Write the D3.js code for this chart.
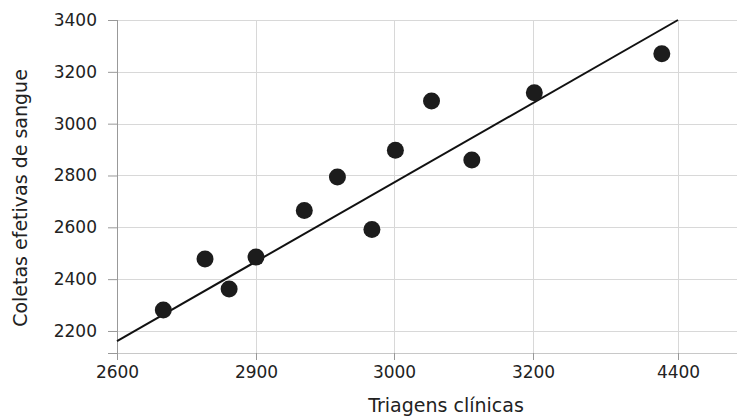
<!DOCTYPE html>
<html>
<head>
<meta charset="utf-8">
<script src="https://cdn.jsdelivr.net/npm/d3@7"></script>
<style>
  body { margin: 0; background: #fff; }
  svg text { font-family: "DejaVu Sans", sans-serif; fill: #222; }
</style>
</head>
<body>
<svg id="chart" width="737" height="416"></svg>
<script>
// x axis labels are uneven in the source, so the x scale is piecewise
const xTicks = [2600, 2900, 3000, 3200, 4400];
const xTickPos = [117, 256, 394, 533, 678];
const yTicks = [2200, 2400, 2600, 2800, 3000, 3200, 3400];

const triagens = [2700, 2790, 2842, 2900, 2935, 2959, 2984, 3002, 3054, 3112, 3211, 4266];
const coletas  = [2281, 2478, 2362, 2485, 2665, 2794, 2592, 2897, 3087, 2860, 3119, 3270];

// trend line endpoints
const trendX = [2600, 4400];
const trendY = [2161, 3400];

const svg = d3.select('#chart');
const width = +svg.attr('width'), height = +svg.attr('height');
const margin = { top: 20, right: 0, bottom: 63, left: 117 };

const x = d3.scaleLinear()
  .domain(xTicks)
  .range(xTickPos);

const y = d3.scaleLinear()
  .domain([2115, 3400])
  .range([height - margin.bottom, margin.top]);

// grid
svg.append('g')
  .selectAll('line.h')
  .data(yTicks)
  .enter()
  .append('line')
  .attr('x1', margin.left)
  .attr('x2', width)
  .attr('y1', d => Math.round(y(d)) + 0.5)
  .attr('y2', d => Math.round(y(d)) + 0.5)
  .attr('stroke', '#d8d8d8');

svg.append('g')
  .selectAll('line.v')
  .data(xTicks.slice(1))
  .enter()
  .append('line')
  .attr('x1', d => Math.round(x(d)) + 0.5)
  .attr('x2', d => Math.round(x(d)) + 0.5)
  .attr('y1', y(3400))
  .attr('y2', height - margin.bottom)
  .attr('stroke', '#d8d8d8');

// axes
const xAxis = svg.append('g')
  .attr('transform', `translate(0,${height - margin.bottom})`)
  .call(d3.axisBottom(x).tickValues(xTicks).tickFormat(d3.format('d'))
    .tickSize(7).tickPadding(6).tickSizeOuter(0));

xAxis.select('.domain').attr('d', `M${margin.left},0.5H${width}`).attr('stroke', '#c8c8c8');

const yAxis = svg.append('g')
  .attr('transform', `translate(${margin.left},0)`)
  .call(d3.axisLeft(y).tickValues(yTicks).tickFormat(d3.format('d'))
    .tickSize(9).tickPadding(11).tickSizeOuter(0));

yAxis.select('.domain').attr('d', `M0.5,${y(3400)}V${height - margin.bottom}`).attr('stroke', '#999');

svg.selectAll('.tick line').attr('stroke', '#999');
svg.selectAll('.tick text').style('font-size', '17px').attr('fill', '#222');
svg.selectAll('.domain').attr('fill', 'none');

// extra tick at the axis baseline on the left
yAxis.append('line')
  .attr('x1', -9).attr('x2', 0)
  .attr('y1', height - margin.bottom + 0.5).attr('y2', height - margin.bottom + 0.5)
  .attr('stroke', '#999');

// trend line
svg.append('line')
  .attr('x1', x(trendX[0])).attr('y1', y(trendY[0]))
  .attr('x2', x(trendX[1])).attr('y2', y(trendY[1]))
  .attr('stroke', '#111')
  .attr('stroke-width', 2);

// points
svg.append('g')
  .selectAll('circle')
  .data(triagens)
  .enter()
  .append('circle')
  .attr('cx', d => x(d))
  .attr('cy', (d, i) => y(coletas[i]))
  .attr('r', 8.5)
  .attr('fill', '#1c1c1c');

// titles
svg.append('text')
  .attr('x', 446)
  .attr('y', 412)
  .attr('text-anchor', 'middle')
  .style('font-size', '19px')
  .text('Triagens clínicas');

svg.append('text')
  .attr('transform', 'translate(27,198) rotate(-90)')
  .attr('text-anchor', 'middle')
  .style('font-size', '19px')
  .text('Coletas efetivas de sangue');
</script>
</body>
</html>
